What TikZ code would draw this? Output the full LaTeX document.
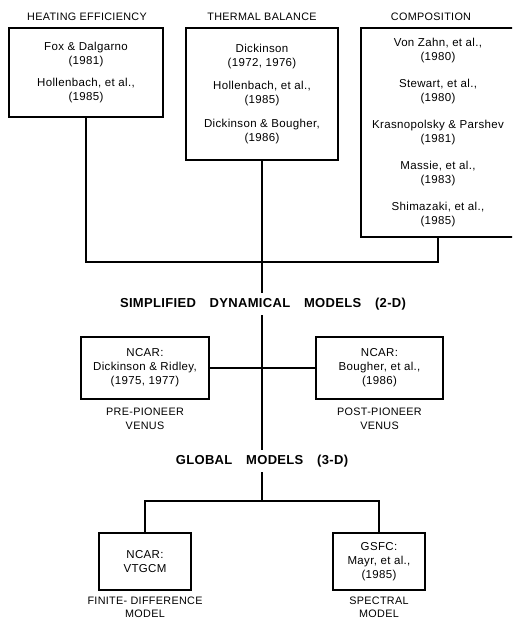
\documentclass[tikz,border=0pt]{standalone}
\usepackage{fontspec}
\setmainfont{Liberation Sans}
\newfontfamily\boxfont[LetterSpace=3]{Liberation Sans}
\newfontfamily\headfont[LetterSpace=2.5,WordSpace=3.5]{Liberation Sans}
\usepackage{tikz}
\usetikzlibrary{positioning}

\begin{document}
\begin{tikzpicture}[x=1pt,y=-1pt,
  refbox/.style={draw, line width=1.2pt, align=center, inner sep=0pt, font=\boxfont\fontsize{11.5}{14}\selectfont},
  topic/.style={align=center, inner sep=0pt, font=\boxfont\fontsize{10.8}{14}\selectfont},
  level/.style={inner sep=5pt, font=\headfont\bfseries\fontsize{13}{15}\selectfont},
  link/.style={line width=2pt}]

\useasboundingbox (0,0) rectangle (512,621);
\clip (0,0) rectangle (512,621);

\node[topic] (hheat) at (87,17) {HEATING EFFICIENCY};
\node[topic] (htherm) at (262,17) {THERMAL BALANCE};
\node[topic] (hcomp) at (431,17) {COMPOSITION};

\node[refbox, minimum width=154pt, minimum height=89pt] (heat) at (86,72.5)
 {Fox \& Dalgarno\\(1981)\\[8pt]Hollenbach, et al.,\\(1985)};
\node[refbox, minimum width=152pt, minimum height=132pt] (therm) at (262,94)
 {Dickinson\\(1972, 1976)\\[9.5pt]Hollenbach, et al.,\\(1985)\\[9.5pt]Dickinson \& Bougher,\\(1986)};
\node[refbox, minimum width=160pt, minimum height=209pt] (comp) at (441,132.5)
 {\hspace*{-6pt}Von Zahn, et al.,\\\hspace*{-6pt}(1980)\\[13pt]\hspace*{-6pt}Stewart, et al.,\\\hspace*{-6pt}(1980)\\[13pt]\hspace*{-6pt}Krasnopolsky \& Parshev\\\hspace*{-6pt}(1981)\\[13pt]\hspace*{-6pt}Massie, et al.,\\\hspace*{-6pt}(1983)\\[13pt]\hspace*{-6pt}Shimazaki, et al.,\\\hspace*{-6pt}(1985)};

\node[level] (simp) at (263,304) {SIMPLIFIED DYNAMICAL MODELS (2-D)};

\node[refbox, minimum width=128pt, minimum height=62pt] (pre) at (145,368)
 {NCAR:\\Dickinson \& Ridley,\\(1975, 1977)};
\node[refbox, minimum width=127pt, minimum height=62pt] (post) at (379.5,368)
 {NCAR:\\Bougher, et al.,\\(1986)};
\node[topic, below=8pt of pre] (prel) {PRE-PIONEER\\VENUS};
\node[topic, below=8pt of post] (postl) {POST-PIONEER\\VENUS};

\node[level] (glob) at (262,461) {GLOBAL MODELS (3-D)};

\node[refbox, minimum width=92pt, minimum height=57pt] (fd) at (145,561.5)
 {NCAR:\\VTGCM};
\node[refbox, minimum width=92pt, minimum height=57pt] (sp) at (379,561.5)
 {GSFC:\\Mayr, et al.,\\(1985)};
\node[topic, below=6pt of fd, font=\boxfont\fontsize{10.8}{13}\selectfont] (fdl) {FINITE- DIFFERENCE\\MODEL};
\node[topic, below=6pt of sp, font=\boxfont\fontsize{10.8}{13}\selectfont] (spl) {SPECTRAL\\MODEL};

\coordinate (jn) at (262,262);
\coordinate (split) at (262,501);

\draw[link] (heat.south) |- (jn) -| ([xshift=-3pt]comp.south);
\draw[link] (therm.south) -- (therm.south |- simp.north);
\draw[link] (glob.north |- simp.south) -- (glob.north);
\draw[link] (pre.east) -- (post.west);
\draw[link] (glob.south) -- (split);
\draw[link] (fd.north) |- (split) -| (sp.north);

\end{tikzpicture}
\end{document}
